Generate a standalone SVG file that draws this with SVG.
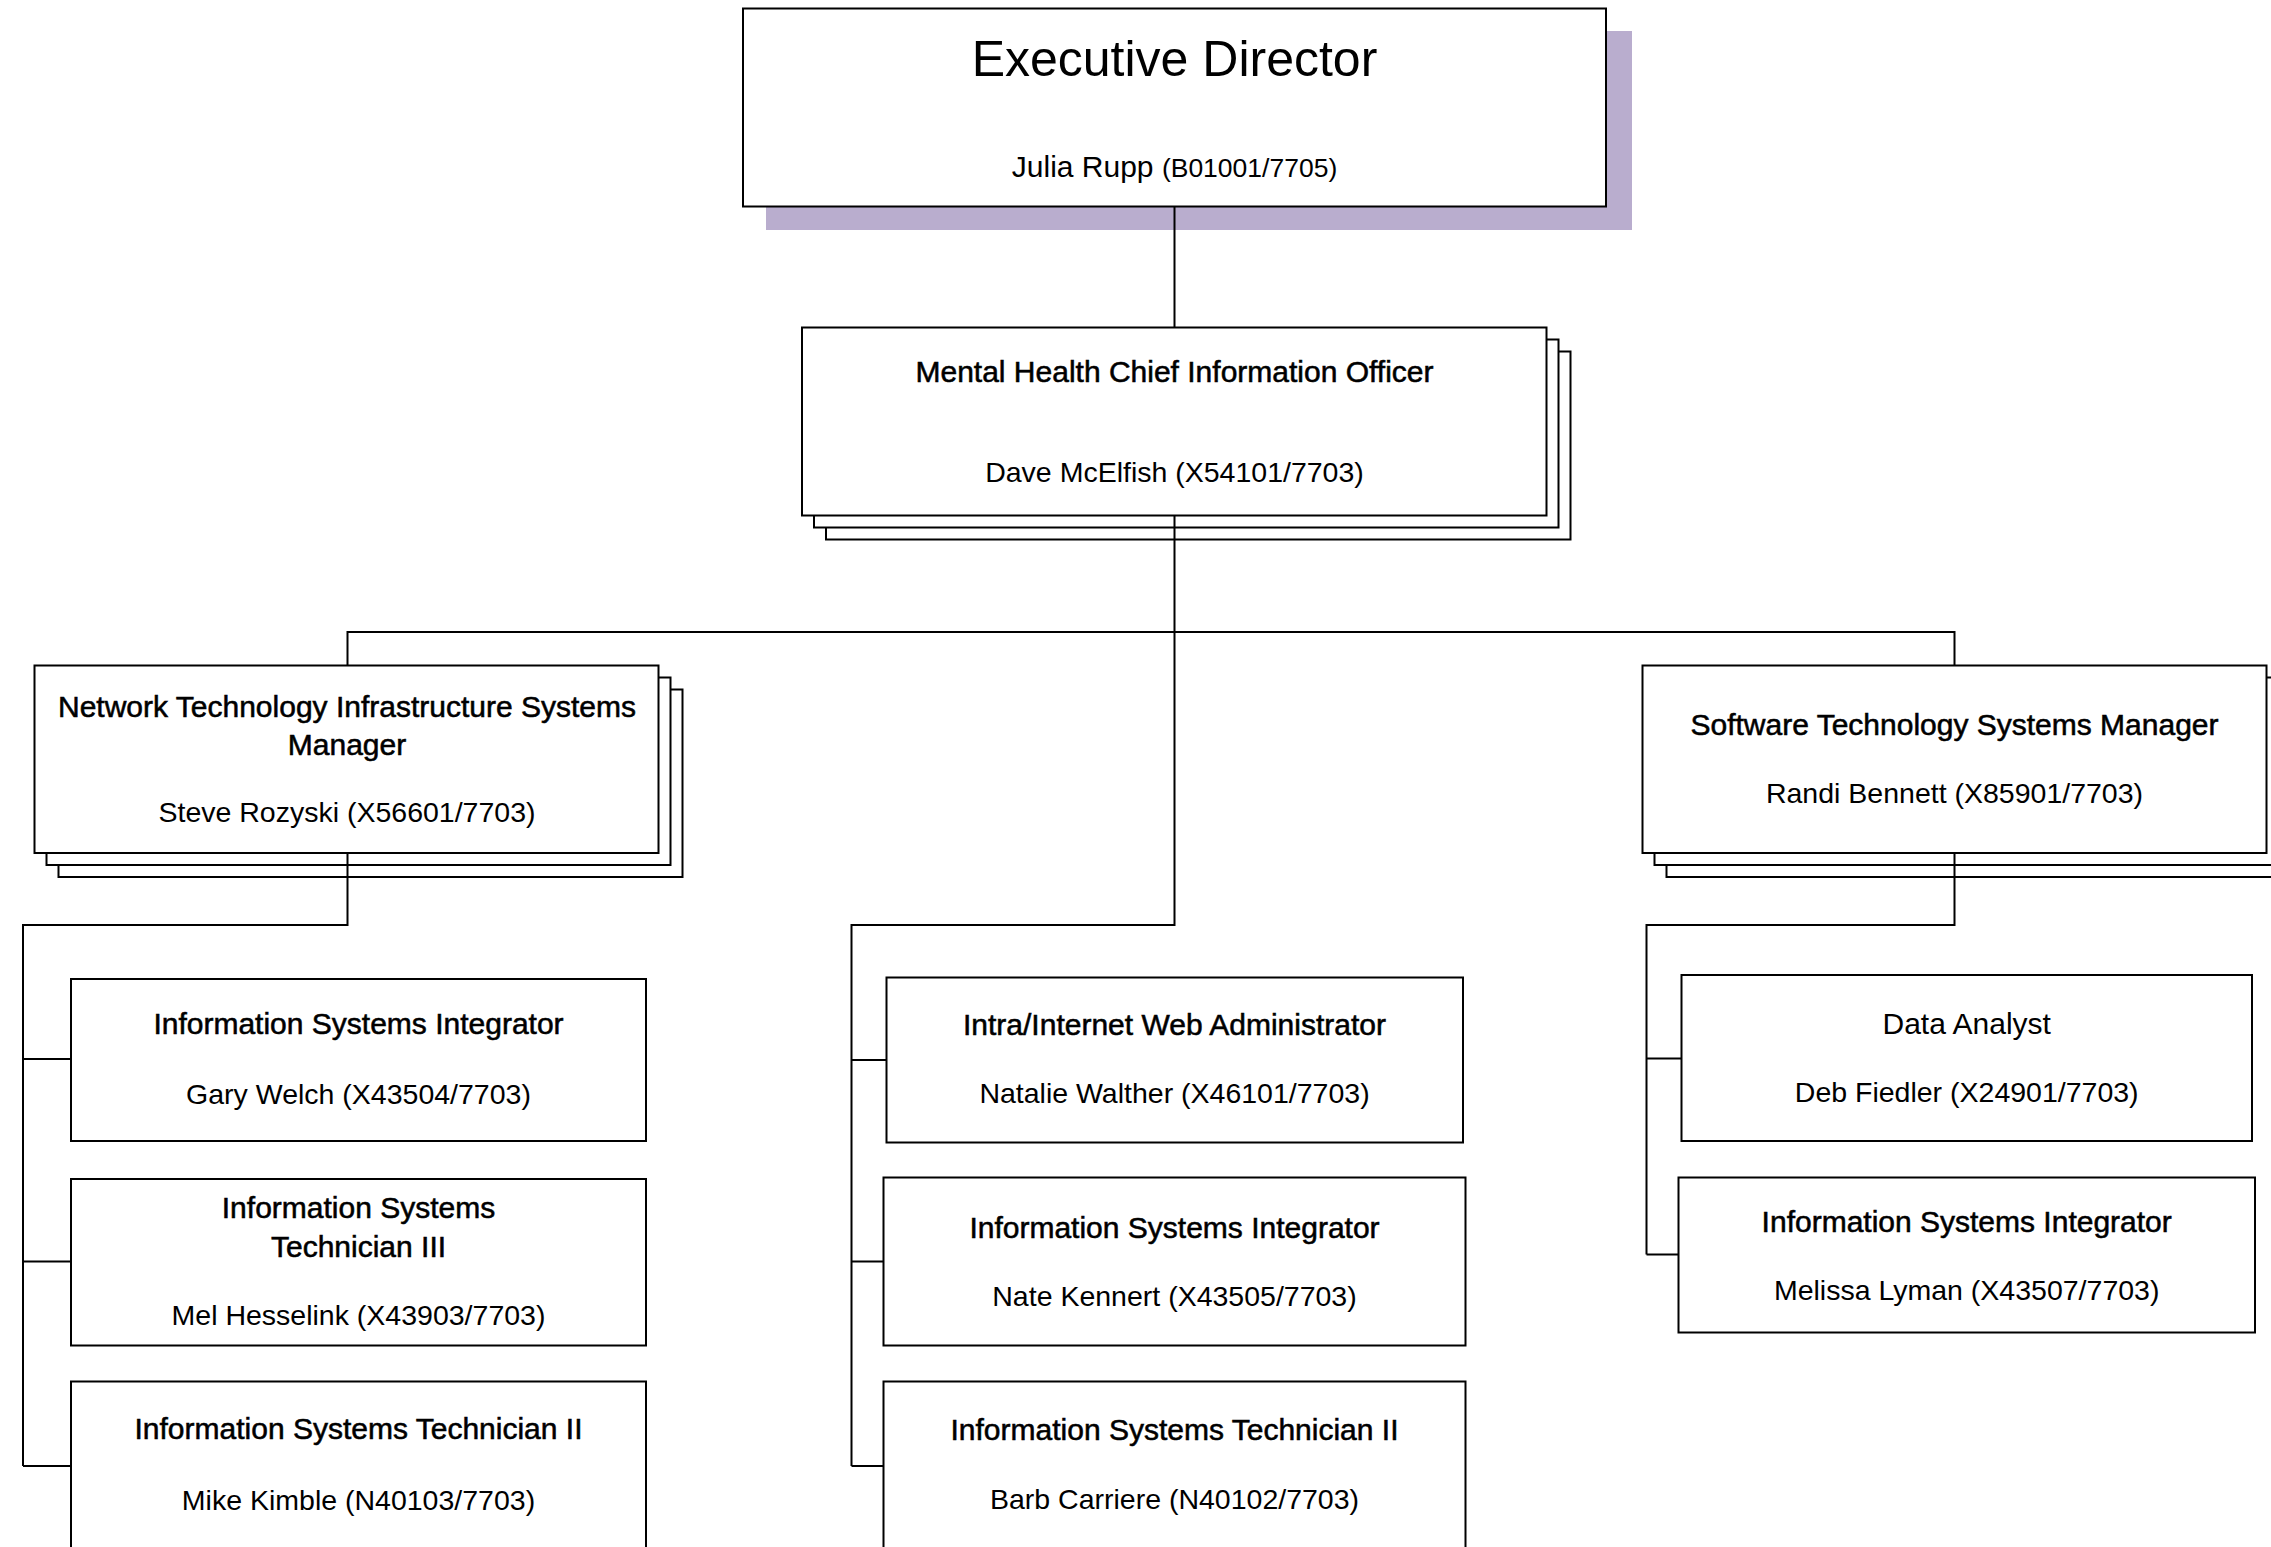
<svg xmlns="http://www.w3.org/2000/svg" width="2271" height="1547" viewBox="0 0 2271 1547">
  <style>
    .box { fill: #ffffff; stroke: #000000; stroke-width: 2; }
    .shadow { fill: #b9adce; stroke: none; }
    .link { fill: none; stroke: #000000; stroke-width: 2; }
    text { font-family: "Liberation Sans", Arial, sans-serif; text-anchor: middle; fill: #000000; }
    .title { font-size: 30px; stroke: #000000; stroke-width: 0.55; }
    .plain { font-size: 30px; }
    .name { font-size: 28.5px; }
    .big { font-size: 50px; }
    .small { font-size: 26.5px; }
  </style>

  <rect width="2271" height="1547" fill="#ffffff"/>

  <!-- Top: executive -->
  <g id="executive-director">
    <rect class="shadow" x="766" y="31" width="866" height="199"/>
    <rect class="box" x="743" y="8.5" width="863" height="198"/>
    <text class="big" x="1174.5" y="76">Executive Director</text>
    <text x="1174.5" y="177"><tspan class="plain">Julia Rupp </tspan><tspan class="small">(B01001/7705)</tspan></text>
  </g>

  <!-- Chief information officer (stacked) -->
  <g id="chief-information-officer">
    <rect class="box" x="826" y="351.5" width="744.5" height="188"/>
    <rect class="box" x="814" y="339.5" width="744.5" height="188"/>
    <rect class="box" x="802" y="327.5" width="744.5" height="188"/>
    <text class="title" x="1174.5" y="381.5">Mental Health Chief Information Officer</text>
    <text class="name" x="1174.5" y="481.5">Dave McElfish (X54101/7703)</text>
  </g>

  <!-- Network technology manager (stacked) -->
  <g id="network-manager">
    <rect class="box" x="58.5" y="689.5" width="624" height="187.5"/>
    <rect class="box" x="46.5" y="677.5" width="624" height="187.5"/>
    <rect class="box" x="34.5" y="665.5" width="624" height="187.5"/>
    <text class="title" x="347" y="717">Network Technology Infrastructure Systems</text>
    <text class="title" x="347" y="755">Manager</text>
    <text class="name" x="347" y="822">Steve Rozyski (X56601/7703)</text>
  </g>

  <!-- Software technology manager (stacked) -->
  <g id="software-manager">
    <rect class="box" x="1666.5" y="689.5" width="624" height="187.5"/>
    <rect class="box" x="1654.5" y="677.5" width="624" height="187.5"/>
    <rect class="box" x="1642.5" y="665.5" width="624" height="187.5"/>
    <text class="title" x="1954.5" y="735">Software Technology Systems Manager</text>
    <text class="name" x="1954.5" y="803">Randi Bennett (X85901/7703)</text>
  </g>

  <!-- Left column staff -->
  <g id="integrator-welch">
    <rect class="box" x="71" y="979" width="575" height="162"/>
    <text class="title" x="358.5" y="1033.5">Information Systems Integrator</text>
    <text class="name" x="358.5" y="1104">Gary Welch (X43504/7703)</text>
  </g>
  <g id="technician3-hesselink">
    <rect class="box" x="71" y="1179" width="575" height="166.5"/>
    <text class="title" x="358.5" y="1217.5">Information Systems</text>
    <text class="title" x="358.5" y="1256.5">Technician III</text>
    <text class="name" x="358.5" y="1324.5">Mel Hesselink (X43903/7703)</text>
  </g>
  <g id="technician2-kimble">
    <rect class="box" x="71" y="1381.5" width="575" height="170"/>
    <text class="title" x="358.5" y="1439">Information Systems Technician II</text>
    <text class="name" x="358.5" y="1510">Mike Kimble (N40103/7703)</text>
  </g>

  <!-- Middle column staff -->
  <g id="web-admin-walther">
    <rect class="box" x="886.5" y="977.5" width="576.5" height="165"/>
    <text class="title" x="1174.5" y="1035">Intra/Internet Web Administrator</text>
    <text class="name" x="1174.5" y="1103">Natalie Walther (X46101/7703)</text>
  </g>
  <g id="integrator-kennert">
    <rect class="box" x="883.5" y="1177.5" width="582" height="168"/>
    <text class="title" x="1174.5" y="1237.5">Information Systems Integrator</text>
    <text class="name" x="1174.5" y="1305.5">Nate Kennert (X43505/7703)</text>
  </g>
  <g id="technician2-carriere">
    <rect class="box" x="883.5" y="1381.5" width="582" height="170"/>
    <text class="title" x="1174.5" y="1440">Information Systems Technician II</text>
    <text class="name" x="1174.5" y="1508.5">Barb Carriere (N40102/7703)</text>
  </g>

  <!-- Right column staff -->
  <g id="data-analyst-fiedler">
    <rect class="box" x="1681.5" y="975" width="570.5" height="166"/>
    <text class="plain" x="1966.7" y="1033.5">Data Analyst</text>
    <text class="name" x="1966.7" y="1101.5">Deb Fiedler (X24901/7703)</text>
  </g>
  <g id="integrator-lyman">
    <rect class="box" x="1678.5" y="1177.5" width="576.5" height="155"/>
    <text class="title" x="1966.7" y="1232">Information Systems Integrator</text>
    <text class="name" x="1966.7" y="1300">Melissa Lyman (X43507/7703)</text>
  </g>

  <!-- Reporting lines -->
  <g id="connectors">
    <path class="link" d="M1174.5 206.5 V327.5"/>
    <path class="link" d="M1174.5 515.5 V632 M347.5 665.5 V632 H1954.5 V665.5"/>
    <path class="link" d="M1174.5 632 V925 H851.5 V1466 M851.5 1060 H886.5 M851.5 1261.5 H883.5 M851.5 1466 H883.5"/>
    <path class="link" d="M347.5 853 V925 H23 V1466 M23 1059 H71 M23 1261.5 H71 M23 1466 H71"/>
    <path class="link" d="M1954.5 853 V925 H1646.5 V1254.5 M1646.5 1058.5 H1681.5 M1646.5 1254.5 H1678.5"/>
  </g>
</svg>
